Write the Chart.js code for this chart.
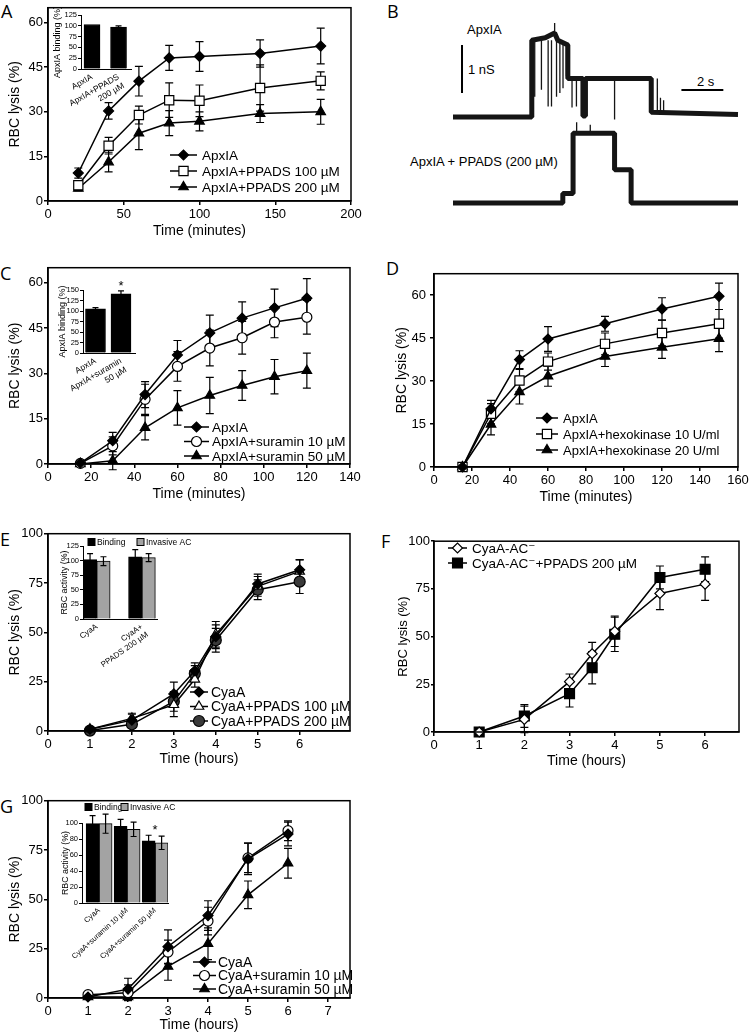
<!DOCTYPE html>
<html>
<head>
<meta charset="utf-8">
<title>RBC lysis panels</title>
<script src="https://cdn.jsdelivr.net/npm/chart.js@4.4.1/dist/chart.umd.min.js"></script>
<style>
  html, body { margin: 0; padding: 0; background: #fff; }
  body { position: relative; width: 750px; height: 1034px; overflow: hidden; font-family: "Liberation Sans", Arial, sans-serif; color: #000; }
  canvas { position: absolute; }
  .panel { position: absolute; font-family: "Open Sans", sans-serif; font-size: 18px; line-height: 18px; }
  .note { position: absolute; font-size: 13px; line-height: 13px; white-space: nowrap; }
</style>
</head>
<body>
<div class="panel" style="left:1px;top:2px">A</div>
<div class="panel" style="left:387px;top:2px">B</div>
<div class="panel" style="left:0px;top:264px">C</div>
<div class="panel" style="left:386px;top:259px">D</div>
<div class="panel" style="left:0px;top:530px">E</div>
<div class="panel" style="left:381px;top:532px">F</div>
<div class="panel" style="left:0px;top:797px">G</div>

<div class="note" style="left:467px;top:23px">ApxIA</div>
<div class="note" style="left:468px;top:63px">1 nS</div>
<div class="note" style="left:697px;top:75px">2 s</div>
<div class="note" style="left:410px;top:155px">ApxIA + PPADS (200 µM)</div>

<canvas id="cA"></canvas>
<canvas id="cB"></canvas>
<canvas id="cC"></canvas>
<canvas id="cD"></canvas>
<canvas id="cE"></canvas>
<canvas id="cF"></canvas>
<canvas id="cG"></canvas>
<canvas id="iA"></canvas>
<canvas id="iC"></canvas>
<canvas id="iE"></canvas>
<canvas id="iG"></canvas>

<script>
'use strict';

// ---- Panel A: ApxIA +/- PPADS (minutes)
var aTime = [20, 40, 60, 80, 100, 140, 180];
var aApx = [9.4, 30.3, 40.3, 48.1, 48.6, 49.6, 52.1];
var aApxErr = [1.7, 2.8, 5, 4.2, 5, 4.6, 6];
var aPp100 = [5.3, 18.6, 28.9, 33.9, 33.7, 38, 40.4];
var aPp100Err = [1, 2.8, 3, 5.8, 5.3, 7.8, 3];
var aPp200 = [4.2, 13.1, 22.8, 26.2, 26.8, 29.4, 30];
var aPp200Err = [0.7, 3.3, 5.5, 4.2, 3.2, 3, 4.2];
var aXTicks = [0, 50, 100, 150, 200];
var aYTicks = [0, 15, 30, 45, 60];
var aInsetCats = ['ApxIA', ['ApxIA+PPADS', '200 µM']];
var aInsetVals = [103, 97];
var aInsetErr = [0, 3];
var aInsetTicks = [0, 25, 50, 75, 100, 125];

// ---- Panel B: single channel traces (s, nS above baseline)
// conductance levels (drawn as the thick noisy band)
var bApxLevels = [[0, 0], [3.76, 0], [3.76, 1.6], [4.4, 1.65], [4.85, 1.75], [5.0, 1.6], [5.48, 1.5],
  [5.48, 0.8], [6.2, 0.8], [6.2, 0.02], [6.32, 0.02], [6.32, 0.8], [9.46, 0.8], [9.46, 0.1], [13.6, 0.05]];
// brief flickers: [time, from, to]
var bApxSpikes = [[3.9, 1.6, 0.42], [4.22, 1.6, 0.57], [4.54, 1.6, 0.22], [4.7, 1.6, 0.22], [4.85, 1.7, 1.96],
  [4.94, 1.6, 0.42], [5.1, 1.6, 0.5], [5.25, 1.5, 0.6], [5.41, 1.5, 0.85], [5.68, 0.8, 0.2], [5.89, 0.8, 0.22],
  [7.71, 0.8, -0.05], [9.75, 0.1, 0.8], [9.9, 0.1, 0.4], [10.05, 0.1, 0.35]];
var bPpadsLevels = [[0, 0], [5.24, 0], [5.24, 0.2], [5.73, 0.2], [5.73, 1.45], [7.71, 1.45], [7.71, 0.69],
  [8.5, 0.69], [8.5, 0], [13.6, 0]];
var bPpadsSpikes = [[5.9, 1.45, 1.68], [6.55, 1.45, 1.63]];
var bTraceGap = 1.79;   // nS between the two baselines
var bScaleNs = 1;
var bScaleSec = 2;

// ---- Panel C: ApxIA +/- suramin (minutes)
var cTime = [15, 30, 45, 60, 75, 90, 105, 120];
var cApx = [0.3, 7.7, 23, 36.1, 43.4, 48.3, 51.7, 54.9];
var cApxErr = [0.5, 2.8, 4.3, 4.8, 5.9, 5.4, 6.2, 6.5];
var cSur10 = [0.2, 6, 21.4, 32.3, 38.4, 41.8, 47, 48.6];
var cSur10Err = [0.5, 3, 5, 4.9, 5.9, 5.4, 5.2, 5.6];
var cSur50 = [0, 1.1, 12, 18.6, 22.7, 26, 28.9, 30.9];
var cSur50Err = [0.3, 3, 4, 5.7, 6, 4.9, 5.7, 5.8];
var cXTicks = [0, 20, 40, 60, 80, 100, 120, 140];
var cYTicks = [0, 15, 30, 45, 60];
var cInsetCats = ['ApxIA', ['ApxIA+suramin', '50 µM']];
var cInsetVals = [105, 141];
var cInsetErr = [3, 7];
var cInsetTicks = [0, 25, 50, 75, 100, 125, 150];

// ---- Panel D: ApxIA +/- hexokinase (minutes)
var dTime = [15, 30, 45, 60, 90, 120, 150];
var dApx = [0, 20.3, 37.5, 44.7, 50, 55.2, 59.6];
var dApxErr = [0.5, 3, 3.1, 4.3, 2.6, 3.9, 4.6];
var dHex10 = [0, 18.6, 30.2, 36.8, 43, 46.8, 50];
var dHex10Err = [0.5, 3.5, 3.9, 3, 3.8, 4.5, 5];
var dHex20 = [0, 14.9, 26.2, 31.7, 38.6, 41.8, 44.8];
var dHex20Err = [0.5, 3.7, 4.2, 3.5, 3.5, 3.9, 4.5];
var dXTicks = [0, 20, 40, 60, 80, 100, 120, 140, 160];
var dYTicks = [0, 15, 30, 45, 60];

// ---- Panel E: CyaA +/- PPADS (hours)
var eTime = [1, 2, 3, 3.5, 4, 5, 6];
var eCya = [0.9, 5.5, 18.8, 30.5, 47.8, 74.5, 81.7];
var eCyaErr = [1, 3, 6, 4, 6, 5, 5];
var ePp100 = [0.9, 6.4, 13.3, 26.2, 49, 73.3, 80.9];
var ePp100Err = [1, 2.6, 6, 4, 6.5, 5, 6];
var ePp200 = [0.2, 3.4, 15, 29.1, 46, 71.6, 75.7];
var ePp200Err = [0.5, 2, 5, 4, 6, 5, 6];
var eXTicks = [0, 1, 2, 3, 4, 5, 6];
var eYTicks = [0, 25, 50, 75, 100];
var eInsetCats = ['CyaA', ['CyaA+', 'PPADS 200 µM']];
var eBinding = [101.8, 106.3];
var eBindingErr = [10, 12.4];
var eInvasive = [99, 105.2];
var eInvasiveErr = [7.6, 6.8];
var eInsetTicks = [0, 25, 50, 75, 100, 125];

// ---- Panel F: CyaA-AC- +/- PPADS (hours)
var fTime = [1, 2, 3, 3.5, 4, 5, 6];
var fAc = [0, 6.6, 26.4, 41, 52.8, 72.6, 77.5];
var fAcErr = [0.5, 7, 4, 6, 8, 8.5, 8.5];
var fAcPp = [0, 8.4, 20.1, 33.7, 51.2, 81, 85.3];
var fAcPpErr = [0.5, 6, 7, 8.5, 9, 6, 6.5];
var fXTicks = [0, 1, 2, 3, 4, 5, 6];
var fYTicks = [0, 25, 50, 75, 100];

// ---- Panel G: CyaA +/- suramin (hours)
var gTime = [1, 2, 3, 4, 5, 6];
var gCya = [0.5, 4.5, 26, 41.8, 70.5, 83.1];
var gCyaErr = [0.5, 5.5, 8.5, 7.5, 8, 6];
var gSur10 = [1.7, 2.7, 23.3, 39, 71, 84.8];
var gSur10Err = [1, 4, 6, 7, 7.5, 5];
var gSur50 = [0.5, 0.5, 16, 27.5, 52.3, 68.3];
var gSur50Err = [0.5, 1, 7, 8, 7, 7.5];
var gXTicks = [0, 1, 2, 3, 4, 5, 6, 7];
var gYTicks = [0, 25, 50, 75, 100];
var gInsetCats = ['CyaA', 'CyaA+suramin 10 µM', 'CyaA+suramin 50 µM'];
var gBinding = [99.2, 95.9, 77.7];
var gBindingErr = [10, 8.7, 7];
var gInvasive = [99.2, 92.1, 75.2];
var gInvasiveErr = [12, 9, 8.3];
var gInsetTicks = [0, 20, 40, 60, 80, 100];


var FONT = '"Liberation Sans", "DejaVu Sans", Arial, sans-serif';
Chart.defaults.font.family = FONT;
Chart.defaults.color = '#000';

function place(cv, x, y, w, h) {
  cv.width = w;
  cv.height = h;
  cv.style.left = x + 'px';
  cv.style.top = y + 'px';
  cv.style.width = w + 'px';
  cv.style.height = h + 'px';
}

function pts(xs, ys) {
  return xs.map(function(x, i) { return { x: x, y: ys[i] }; });
}

function drawMark(ctx, ds, x, y) {
  var o = { pointStyle: ds.pointStyle, radius: ds.pointRadius, rotation: 0, borderWidth: ds.pointBorderWidth };
  if (Chart.helpers && Chart.helpers.drawPoint) {
    Chart.helpers.drawPoint(ctx, o, x, y);
  } else {
    ctx.beginPath();
    ctx.arc(x, y, ds.pointRadius, 0, Math.PI * 2);
    ctx.fill();
    ctx.stroke();
  }
}

// box round the plot area
var framePlugin = {
  id: 'frame',
  afterDraw: function(chart, args, opts) {
    if (!opts.on) return;
    var a = chart.chartArea, ctx = chart.ctx;
    ctx.save();
    ctx.strokeStyle = '#000';
    ctx.lineWidth = 1.5;
    ctx.strokeRect(a.left, a.top, a.right - a.left, a.bottom - a.top);
    ctx.restore();
  }
};

// error bars from ds.err
function drawErr(chart, opts) {
  var ctx = chart.ctx, ys = chart.scales.y, c = opts.cap;
  ctx.save();
  ctx.strokeStyle = '#000';
  ctx.lineWidth = opts.width;
  chart.data.datasets.forEach(function(ds, di) {
    if (!ds.err) return;
    chart.getDatasetMeta(di).data.forEach(function(el, i) {
      var e = ds.err[i];
      if (!e) return;
      var v = ds.data[i].y;
      var y0 = ys.getPixelForValue(v - e), y1 = ys.getPixelForValue(v + e), x = el.x;
      ctx.beginPath();
      ctx.moveTo(x, y0); ctx.lineTo(x, y1);
      ctx.moveTo(x - c, y0); ctx.lineTo(x + c, y0);
      ctx.moveTo(x - c, y1); ctx.lineTo(x + c, y1);
      ctx.stroke();
    });
  });
  ctx.restore();
}
var errPlugin = {
  id: 'errBars',
  beforeDatasetsDraw: function(chart, args, opts) { if (!opts.front) drawErr(chart, opts); },
  afterDatasetsDraw: function(chart, args, opts) { if (opts.front) drawErr(chart, opts); }
};

// line + marker legend rows
var keyPlugin = {
  id: 'key',
  afterDraw: function(chart, args, opts) {
    if (!opts.len) return;
    var ctx = chart.ctx;
    ctx.save();
    chart.data.datasets.forEach(function(ds, i) {
      var y = opts.y + i * opts.dy, mx = opts.x + opts.len / 2;
      ctx.strokeStyle = '#000';
      ctx.lineWidth = ds.borderWidth;
      ctx.beginPath();
      ctx.moveTo(opts.x, y);
      ctx.lineTo(opts.x + opts.len, y);
      ctx.stroke();
      ctx.fillStyle = ds.pointBackgroundColor;
      ctx.strokeStyle = ds.pointBorderColor;
      ctx.lineWidth = ds.pointBorderWidth;
      drawMark(ctx, ds, mx, y);
      ctx.fillStyle = '#000';
      ctx.font = opts.font + 'px ' + FONT;
      ctx.textAlign = 'left';
      ctx.textBaseline = 'middle';
      ctx.fillText(ds.label, opts.x + opts.len + opts.gap, y + 1);
    });
    ctx.restore();
  }
};

// asterisk above a bar group
var starPlugin = {
  id: 'star',
  afterDatasetsDraw: function(chart, args, opts) {
    if (opts.index === undefined) return;
    var ctx = chart.ctx, top = Infinity, xs = 0, n = 0;
    chart.data.datasets.forEach(function(ds, di) {
      var el = chart.getDatasetMeta(di).data[opts.index];
      var v = ds.data[opts.index].y + (ds.err ? ds.err[opts.index] : 0);
      top = Math.min(top, chart.scales.y.getPixelForValue(v));
      xs += el.x; n++;
    });
    ctx.save();
    ctx.fillStyle = '#000';
    ctx.font = '13px ' + FONT;
    ctx.textAlign = 'center';
    ctx.textBaseline = 'alphabetic';
    ctx.fillText('*', xs / n, top - opts.dy);
    ctx.restore();
  }
};

// small square swatches for the inset bar legends
var swatchPlugin = {
  id: 'swatch',
  afterDraw: function(chart, args, opts) {
    if (!opts.xs) return;
    var ctx = chart.ctx;
    ctx.save();
    chart.data.datasets.forEach(function(ds, i) {
      var x = opts.xs[i], y = opts.y;
      ctx.fillStyle = ds.backgroundColor;
      ctx.strokeStyle = '#000';
      ctx.lineWidth = 1;
      ctx.fillRect(x, y - 3.5, 7, 7);
      ctx.strokeRect(x, y - 3.5, 7, 7);
      ctx.fillStyle = '#000';
      ctx.font = opts.font + 'px ' + FONT;
      ctx.textAlign = 'left';
      ctx.textBaseline = 'middle';
      ctx.fillText(ds.label, x + 9, y + 0.5);
    });
    ctx.restore();
  }
};

// B: calibration bars
var scaleBarPlugin = {
  id: 'scaleBars',
  afterDraw: function(chart, args, opts) {
    var ctx = chart.ctx, xs = chart.scales.x, ys = chart.scales.y;
    ctx.save();
    ctx.strokeStyle = '#000';
    ctx.lineWidth = 2;
    ctx.beginPath();
    ctx.moveTo(xs.getPixelForValue(opts.vAt[0]), ys.getPixelForValue(opts.vAt[1]));
    ctx.lineTo(xs.getPixelForValue(opts.vAt[0]), ys.getPixelForValue(opts.vAt[1] + opts.ns));
    ctx.moveTo(xs.getPixelForValue(opts.hAt[0]), ys.getPixelForValue(opts.hAt[1]));
    ctx.lineTo(xs.getPixelForValue(opts.hAt[0] + opts.sec), ys.getPixelForValue(opts.hAt[1]));
    ctx.stroke();
    ctx.restore();
  }
};

var DIAMOND = { style: 'rectRot', r: 5, fill: '#000' };
var OPEN_DIAMOND = { style: 'rectRot', r: 5, fill: '#fff' };
var SQUARE_OPEN = { style: 'rect', r: 6.5, fill: '#fff' };
var SQUARE = { style: 'rect', r: 7, fill: '#000' };
var TRIANGLE = { style: 'triangle', r: 5.5, fill: '#000' };
var TRIANGLE_OPEN = { style: 'triangle', r: 5.5, fill: '#fff' };
var CIRCLE_OPEN = { style: 'circle', r: 5, fill: '#fff' };
var CIRCLE_GREY = { style: 'circle', r: 5.5, fill: '#3a3a3a' };

function series(label, xs, ys, err, look) {
  return {
    label: label, data: pts(xs, ys), err: err,
    borderColor: '#000', borderWidth: 1.5, tension: 0, clip: 10,
    pointStyle: look.style, pointRadius: look.r, pointBackgroundColor: look.fill,
    pointBorderColor: '#000', pointBorderWidth: 1.2
  };
}

function tickList(list) {
  return function(s) { s.ticks = list.map(function(v) { return { value: v }; }); };
}

function lysisChart(o) {
  var cv = document.getElementById(o.id);
  var left = o.area[0] - o.yw, top = o.area[1] - o.padTop;
  var w = o.area[2] + o.padRight - left, h = o.area[3] + o.xh - top;
  place(cv, left, top, w, h);
  var ts = o.titleSize || 14, lh = ts * 1.2 / 2;
  new Chart(cv, {
    type: 'line',
    data: { datasets: o.sets },
    options: {
      responsive: false, animation: false, events: [],
      layout: { padding: { left: 0, top: o.padTop, right: o.padRight, bottom: 0 } },
      plugins: {
        legend: { display: false }, tooltip: { enabled: false },
        frame: { on: true },
        errBars: { cap: 4, width: 1.2, front: false },
        key: { x: o.key.x - left, y: o.key.y - top, dy: o.key.dy, len: o.key.len, gap: o.key.gap, font: o.key.font }
      },
      scales: {
        x: {
          type: 'linear', min: o.x[0], max: o.x[1],
          afterBuildTicks: tickList(o.xTicks),
          afterFit: function(s) { s.height = o.xh; s.paddingLeft = 0; s.paddingRight = 0; },
          grid: { drawOnChartArea: false, tickLength: 4, color: '#000', lineWidth: 1.5 },
          border: { color: '#000', width: 1.5 },
          ticks: { font: { size: 13 }, padding: 2, maxRotation: 0, autoSkip: false, callback: function(v) { return String(v); } },
          title: { display: true, text: o.xTitle, font: { size: 14 }, padding: { top: 0, bottom: (top + h) - o.xTitleY - 8.4 } }
        },
        y: {
          type: 'linear', min: o.y[0], max: o.y[1],
          afterBuildTicks: tickList(o.yTicks),
          afterFit: function(s) { s.width = o.yw; s.paddingTop = 0; s.paddingBottom = 0; },
          grid: { drawOnChartArea: false, tickLength: o.tickLen || 4, color: '#000', lineWidth: 1.5 },
          border: { color: '#000', width: 1.5 },
          ticks: { font: { size: 13 }, padding: o.yTickPad || 1, autoSkip: false, callback: function(v) { return String(v); } },
          title: { display: true, text: 'RBC lysis (%)', font: { size: ts }, padding: { top: o.yTitleX - left - lh, bottom: 0 } }
        }
      }
    },
    plugins: [framePlugin, errPlugin, keyPlugin]
  });
}

function insetChart(o) {
  var cv = document.getElementById(o.id);
  var left = o.area[0] - o.yw - o.padLeft, top = o.area[1] - o.padTop;
  var w = o.area[2] + o.padRight - left, h = o.area[3] + o.xh - top;
  place(cv, left, top, w, h);
  var fs = o.fs || 7.5, lfs = o.lfs || fs, tfs = o.tfs || fs;
  var titlePad = Math.max(0, o.titleX - (left + o.padLeft) - tfs * 0.6);
  var sw = o.swatch ? { xs: o.swatch.xs.map(function(x) { return x - left; }), y: o.swatch.y - top, font: o.swatch.font } : {};
  new Chart(cv, {
    type: 'bar',
    data: {
      datasets: o.sets.map(function(s) {
        return {
          label: s.label, data: pts(o.cats.map(function(c, i) { return i + 1; }), s.vals), err: s.err,
          backgroundColor: s.color, borderColor: '#000', borderWidth: 1, barThickness: o.barW
        };
      })
    },
    options: {
      responsive: false, animation: false, events: [],
      layout: { padding: { left: o.padLeft, top: o.padTop, right: o.padRight, bottom: 0 } },
      plugins: {
        legend: { display: false }, tooltip: { enabled: false },
        errBars: { cap: 3, width: 1.2, front: true },
        star: { index: o.star, dy: 1 },
        swatch: sw
      },
      scales: {
        x: {
          type: 'linear', min: o.xr[0], max: o.xr[1], offset: false,
          afterBuildTicks: tickList(o.cats.map(function(c, i) { return i + 1; })),
          afterFit: function(s) { s.height = o.xh; s.paddingLeft = 0; s.paddingRight = 0; },
          grid: { display: true, drawOnChartArea: false, drawTicks: false, offset: false },
          border: { color: '#000', width: 1 },
          ticks: { minRotation: o.rot, maxRotation: o.rot, padding: 3, autoSkip: false, font: { size: lfs },
            callback: function(v) { return o.cats[v - 1]; } }
        },
        y: {
          type: 'linear', min: 0, max: o.ymax,
          afterBuildTicks: tickList(o.yTicks),
          afterFit: function(s) { s.width = o.yw; s.paddingTop = 0; s.paddingBottom = 0; },
          grid: { drawOnChartArea: false, tickLength: 3, color: '#000', lineWidth: 1 },
          border: { color: '#000', width: 1 },
          ticks: { padding: 1, autoSkip: false, font: { size: fs }, callback: function(v) { return String(v); } },
          title: { display: true, text: o.yTitle, font: { size: tfs }, padding: { top: titlePad, bottom: 0 } }
        }
      }
    },
    plugins: [errPlugin, starPlugin, swatchPlugin]
  });
}

// ---------- main panels
lysisChart({
  id: 'cA', area: [48, 5, 351, 201], yw: 48, padTop: 5, padRight: 14, xh: 39,
  x: [0, 200], xTicks: aXTicks, y: [0, 65], yTicks: aYTicks,
  xTitle: 'Time (minutes)', xTitleY: 231, yTitleX: 15,
  key: { x: 170, y: 155, dy: 16, len: 27, gap: 5, font: 13.5 },
  sets: [
    series('ApxIA', aTime, aApx, aApxErr, DIAMOND),
    series('ApxIA+PPADS 100 µM', aTime, aPp100, aPp100Err, SQUARE_OPEN),
    series('ApxIA+PPADS 200 µM', aTime, aPp200, aPp200Err, TRIANGLE)
  ]
});

lysisChart({
  id: 'cC', area: [48, 266, 350, 464], yw: 48, padTop: 5, padRight: 14, xh: 38,
  x: [0, 140], xTicks: cXTicks, y: [0, 65], yTicks: cYTicks,
  xTitle: 'Time (minutes)', xTitleY: 494, yTitleX: 15,
  key: { x: 184, y: 427, dy: 14.5, len: 25, gap: 3, font: 13.5 },
  sets: [
    series('ApxIA', cTime, cApx, cApxErr, DIAMOND),
    series('ApxIA+suramin 10 µM', cTime, cSur10, cSur10Err, CIRCLE_OPEN),
    series('ApxIA+suramin 50 µM', cTime, cSur50, cSur50Err, TRIANGLE)
  ]
});

lysisChart({
  id: 'cD', area: [434, 271, 738, 467], yw: 44, padTop: 5, padRight: 12, xh: 38,
  x: [0, 160], xTicks: dXTicks, y: [0, 67.5], yTicks: dYTicks, yTickPad: 4,
  xTitle: 'Time (minutes)', xTitleY: 497, yTitleX: 402,
  key: { x: 536, y: 418, dy: 16, len: 22, gap: 5, font: 13 },
  sets: [
    series('ApxIA', dTime, dApx, dApxErr, DIAMOND),
    series('ApxIA+hexokinase 10 U/ml', dTime, dHex10, dHex10Err, SQUARE_OPEN),
    series('ApxIA+hexokinase 20 U/ml', dTime, dHex20, dHex20Err, TRIANGLE)
  ]
});

lysisChart({
  id: 'cE', area: [48, 533, 350, 731], yw: 48, padTop: 6, padRight: 14, xh: 37,
  x: [0, 7.2], xTicks: eXTicks, y: [0, 100], yTicks: eYTicks,
  xTitle: 'Time (hours)', xTitleY: 759, yTitleX: 15,
  key: { x: 190, y: 692, dy: 14.5, len: 18, gap: 3, font: 14 },
  sets: [
    series('CyaA', eTime, eCya, eCyaErr, DIAMOND),
    series('CyaA+PPADS 100 µM', eTime, ePp100, ePp100Err, TRIANGLE_OPEN),
    series('CyaA+PPADS 200 µM', eTime, ePp200, ePp200Err, CIRCLE_GREY)
  ]
});

lysisChart({
  id: 'cF', area: [434, 539, 739, 732], yw: 44, padTop: 6, padRight: 11, xh: 37,
  x: [0, 6.75], xTicks: fXTicks, y: [0, 100], yTicks: fYTicks, tickLen: 3, titleSize: 13,
  xTitle: 'Time (hours)', xTitleY: 761, yTitleX: 403,
  key: { x: 448, y: 548, dy: 15, len: 19, gap: 5, font: 13.5 },
  sets: [
    series('CyaA-AC⁻', fTime, fAc, fAcErr, OPEN_DIAMOND),
    series('CyaA-AC⁻+PPADS 200 µM', fTime, fAcPp, fAcPpErr, SQUARE)
  ]
});

lysisChart({
  id: 'cG', area: [48, 799, 350, 998], yw: 48, padTop: 5, padRight: 14, xh: 36,
  x: [0, 7.55], xTicks: gXTicks, y: [0, 100], yTicks: gYTicks,
  xTitle: 'Time (hours)', xTitleY: 1025, yTitleX: 15,
  key: { x: 193, y: 962, dy: 13.5, len: 23, gap: 2, font: 14 },
  sets: [
    series('CyaA', gTime, gCya, gCyaErr, DIAMOND),
    series('CyaA+suramin 10 µM', gTime, gSur10, gSur10Err, CIRCLE_OPEN),
    series('CyaA+suramin 50 µM', gTime, gSur50, gSur50Err, TRIANGLE)
  ]
});

// ---------- B: channel recordings
(function() {
  var cv = document.getElementById('cB');
  place(cv, 440, 10, 310, 205);
  function band(rows, lift) {
    return {
      data: rows.map(function(p) { return { x: p[0], y: p[1] + lift }; }),
      borderColor: '#151515', borderWidth: 5, pointRadius: 0, tension: 0,
      borderJoinStyle: 'bevel', clip: false
    };
  }
  function flicker(rows, lift) {
    var d = [];
    rows.forEach(function(s) {
      d.push({ x: s[0], y: s[1] + lift }, { x: s[0], y: s[2] + lift }, { x: s[0], y: null });
    });
    return { data: d, borderColor: '#151515', borderWidth: 1.3, pointRadius: 0, spanGaps: false, clip: false };
  }
  new Chart(cv, {
    type: 'line',
    data: { datasets: [
      band(bApxLevels, bTraceGap), flicker(bApxSpikes, bTraceGap),
      band(bPpadsLevels, 0), flicker(bPpadsSpikes, 0)
    ] },
    options: {
      responsive: false, animation: false, events: [],
      layout: { padding: { left: 13, right: 12, top: 10, bottom: 0 } },
      plugins: {
        legend: { display: false }, tooltip: { enabled: false },
        scaleBars: { vAt: [0.43, 2.29], ns: bScaleNs, hAt: [10.9, 2.35], sec: bScaleSec }
      },
      scales: {
        x: { type: 'linear', display: false, min: 0, max: 13.6 },
        y: { type: 'linear', display: false, min: -0.25, max: 3.81 }
      }
    },
    plugins: [scaleBarPlugin]
  });
})();

// ---------- insets
insetChart({
  id: 'iA', area: [81, 15, 131, 69], yw: 30, padLeft: 0, padTop: 7, padRight: 6, xh: 45,
  xr: [0.585, 2.47], cats: aInsetCats, ymax: 125, yTicks: aInsetTicks, barW: 16,
  fs: 7.5, lfs: 8.5, tfs: 9, rot: 30,
  yTitle: 'ApxIA binding (%)', titleX: 58,
  sets: [{ label: 'ApxIA binding', vals: aInsetVals, err: aInsetErr, color: '#000' }]
});

insetChart({
  id: 'iC', area: [83, 290, 135, 353], yw: 30, padLeft: 0, padTop: 9, padRight: 8, xh: 40,
  xr: [0.51, 2.55], cats: cInsetCats, ymax: 150, yTicks: cInsetTicks, barW: 20,
  fs: 7.5, lfs: 8.5, tfs: 9, rot: 30,
  yTitle: 'ApxIA binding (%)', titleX: 63, star: 1,
  sets: [{ label: 'ApxIA binding', vals: cInsetVals, err: cInsetErr, color: '#000' }]
});

insetChart({
  id: 'iE', area: [83, 546, 157, 619], yw: 24, padLeft: 6, padTop: 14, padRight: 40, xh: 62,
  xr: [0.696, 2.333], cats: eInsetCats, ymax: 125, yTicks: eInsetTicks, barW: 13.4,
  fs: 7.5, lfs: 8, tfs: 8.8, rot: 35,
  yTitle: 'RBC activity (%)', titleX: 63,
  swatch: { xs: [88, 137], y: 542, font: 8.5 },
  sets: [
    { label: 'Binding', vals: eBinding, err: eBindingErr, color: '#000' },
    { label: 'Invasive AC', vals: eInvasive, err: eInvasiveErr, color: '#a3a3a3' }
  ]
});

insetChart({
  id: 'iG', area: [82, 823, 168, 903], yw: 22, padLeft: 12, padTop: 25, padRight: 30, xh: 70,
  xr: [0.39, 3.46], cats: gInsetCats, ymax: 100, yTicks: gInsetTicks, barW: 13,
  fs: 7.5, lfs: 7.5, tfs: 8.8, rot: 42,
  yTitle: 'RBC activity (%)', titleX: 64, star: 2,
  swatch: { xs: [85, 121], y: 807, font: 8.5 },
  sets: [
    { label: 'Binding', vals: gBinding, err: gBindingErr, color: '#000' },
    { label: 'Invasive AC', vals: gInvasive, err: gInvasiveErr, color: '#a3a3a3' }
  ]
});
</script>
</body>
</html>
